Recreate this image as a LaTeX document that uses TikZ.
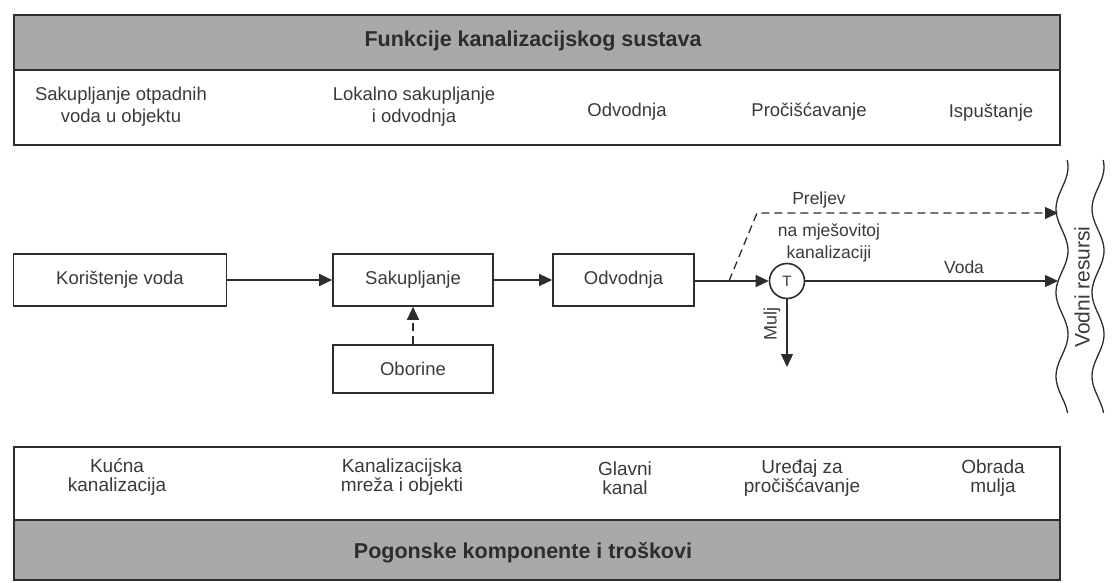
\documentclass[tikz,border=0pt]{standalone}
\usepackage{fontspec}
\setmainfont{Liberation Sans}
\usetikzlibrary{arrows.meta}
\definecolor{band}{RGB}{170,168,168}
\definecolor{ink}{RGB}{45,45,45}
\definecolor{txt}{RGB}{58,58,58}
\tikzset{
  panel/.style={draw=ink, line width=2pt},
  bandfill/.style={fill=band, draw=ink, line width=2pt},
  head/.style={font=\fontsize{21.5}{24}\selectfont\bfseries, text=ink},
  lab/.style={font=\fontsize{18.5}{22}\selectfont, text=txt, align=center},
  blab/.style={font=\fontsize{19}{19}\selectfont, text=txt, align=center},
  box/.style={draw=ink, line width=1.6pt, font=\fontsize{18.5}{21}\selectfont, text=txt, inner sep=0pt},
  flow/.style={draw=ink, line width=1.3pt, -{Triangle[length=13pt,width=12pt]}},
  dflow/.style={flow, dash pattern=on 8pt off 5pt},
  small/.style={font=\fontsize{17.5}{22}\selectfont, text=txt, align=center}
}
\begin{document}
\begin{tikzpicture}[x=1pt,y=-1pt]
\useasboundingbox (0,0) rectangle (1116,583);
\fill[white] (0,0) rectangle (1116,583);
% top panel
\draw[bandfill] (14,15) rectangle (1060,70);
\draw[panel] (14,70) rectangle (1060,145);
\node[head] (fh) at (533,41) {Funkcije kanalizacijskog sustava};
\node[lab] (f1) at (121,107) {Sakupljanje otpadnih\\voda u objektu};
\node[lab] (f2) at (414,107) {Lokalno sakupljanje\\i odvodnja};
\node[lab] (f3) at (627,112) {Odvodnja};
\node[lab] (f4) at (809,112) {Pročišćavanje};
\node[lab] (f5) at (991,113) {Ispuštanje};
% bottom panel
\draw[panel] (14,447) rectangle (1060,520);
\draw[bandfill] (14,520) rectangle (1060,580);
\node[head] (ph) at (523,553) {Pogonske komponente i troškovi};
\node[blab] (p1) at (117,477) {Kućna\\kanalizacija};
\node[blab] (p2) at (402,477) {Kanalizacijska\\mreža i objekti};
\node[blab] (p3) at (625,478) {Glavni\\kanal};
\node[blab] (p4) at (802,478) {Uređaj za\\pročišćavanje};
\node[blab] (p5) at (993,478) {Obrada\\mulja};
% flow
\node[box, minimum width=213pt, minimum height=52pt] (kv) at (120,280) {Korištenje voda};
\node[box, minimum width=160pt, minimum height=52pt] (sk) at (413,280) {Sakupljanje};
\node[box, minimum width=141pt, minimum height=52pt] (od) at (623.5,280) {Odvodnja};
\node[box, minimum width=160pt, minimum height=48pt] (ob) at (413,369) {Oborine};
\node[circle, draw=ink, line width=1.6pt, minimum size=35pt, inner sep=0pt, font=\fontsize{15}{16}\selectfont, text=txt] (t) at (787,281) {T};
\coordinate (vr) at (1058,281);
\coordinate (pr) at (1058,213);
\coordinate (pk) at (757,213);
\coordinate (ps) at (729,281);
\coordinate (mu) at (787,367);
\draw[flow] (kv) -- (sk);
\draw[flow] (sk) -- (od);
\draw[flow] (od.east |- t) -- (t);
\draw[flow] (t) -- (vr);
\node[small] (voda) at (964,267) {Voda};
\draw[flow] (t) -- (mu);
\node[small, rotate=90, font=\fontsize{18}{20}\selectfont] (mulj) at (772,324) {Mulj};
\draw[dflow] (ps) -- (pk) -- (pr);
\draw[dflow] (ob) -- (sk);
\node[small] (prl1) at (819,200) {Preljev};
\node[small] (prl2) at (829,243) {na mješovitoj\\kanalizaciji};
% water resources
\draw[ink, line width=1.3pt] plot[domain=160:413, samples=90, smooth] ({1062+6*sin((\x-160)*4.3+60)},\x);
\draw[ink, line width=1.3pt] plot[domain=160:413, samples=90, smooth] ({1098+6*sin((\x-160)*4.3+60)},\x);
\node[rotate=90, font=\fontsize{21}{24}\selectfont, text=txt] (vres) at (1082,287) {Vodni resursi};
\end{tikzpicture}
\end{document}
